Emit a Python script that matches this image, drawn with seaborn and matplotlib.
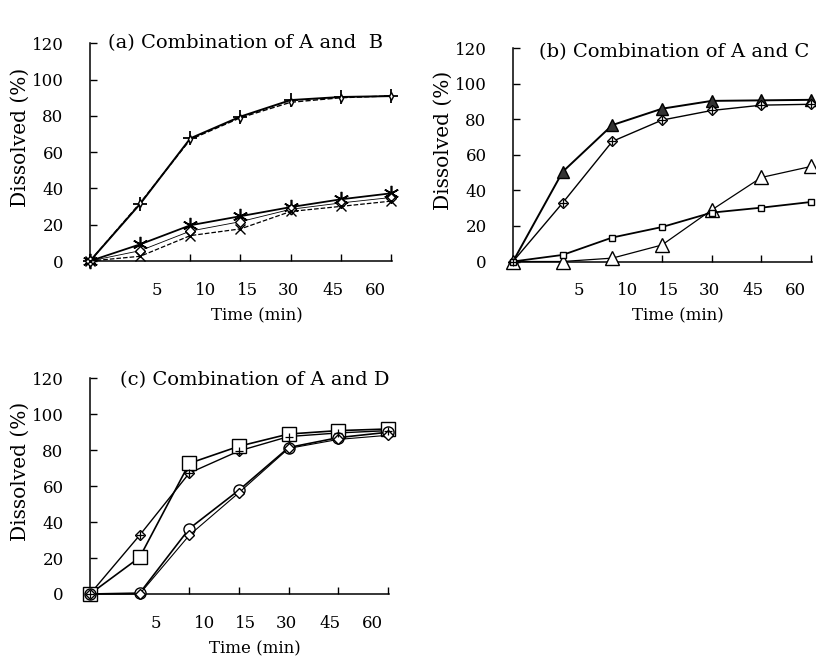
import numpy as np
import pandas as pd
import matplotlib
matplotlib.use("Agg")
import matplotlib.pyplot as plt
import seaborn as sns

# Sampling times (min) and the dissolved percentages for each formulation
time_min = [0, 5, 10, 15, 30, 45, 60]
time_labels = ["5", "10", "15", "30", "45", "60"]

# (a) A combined with B
a_A = [0, 31.5, 67.6, 79.6, 88.7, 90.4, 90.9]
a_AB = [0, 32.0, 67.0, 79.0, 87.5, 90.0, 91.0]
a_B = [0, 9.2, 19.7, 24.7, 29.7, 34.0, 37.3]
a_B2 = [0, 5.7, 16.5, 21.7, 28.5, 32.0, 35.0]
a_B3 = [0, 2.6, 14.0, 17.7, 27.3, 30.1, 33.0]

# (b) A combined with C
b_AC = [0, 50.5, 76.8, 86.0, 90.4, 90.7, 91.0]
b_A = [0, 33.0, 67.6, 79.6, 85.0, 88.0, 88.5]
b_C = [0, 0, 1.9, 9.3, 29.0, 47.3, 53.5]
b_C2 = [0, 3.7, 13.5, 19.4, 27.5, 30.3, 33.5]

# (c) A combined with D
c_A = [0, 32.7, 67.3, 79.6, 87.6, 89.6, 90.9]
c_AD = [0, 20.4, 72.7, 82.2, 89.0, 90.9, 91.8]
c_D = [0, 0.5, 36.4, 57.8, 81.5, 87.0, 90.0]
c_D2 = [0, 0, 32.7, 56.4, 81.0, 86.0, 88.3]

sns.set_style("ticks")
plt.rcParams["font.family"] = ["DejaVu Serif", "DejaVu Sans"]
plt.rcParams["font.size"] = 12
for key in ["text.color", "axes.labelcolor", "xtick.color", "ytick.color",
            "axes.edgecolor"]:
    plt.rcParams[key] = "black"

fig = plt.figure(figsize=(8.16, 6.6), dpi=100)

W, H = 816, 660


def px_axes(left, right, bottom, top):
    return fig.add_axes([left / W, 1 - bottom / H, (right - left) / W, (bottom - top) / H])


ax_a = px_axes(90, 392, 261.0, 43.3)
ax_b = px_axes(513, 812, 261.5, 48.3)
ax_c = px_axes(90, 389, 594.0, 378.3)

x = np.arange(len(time_min))


def draw(ax, y, marker, ms=7, ls="-", lw=1.2, mfc="white", mew=1.0, extra=None):
    df = pd.DataFrame({"pos": x, "val": y})
    sns.lineplot(data=df, x="pos", y="val", ax=ax, color="black", linestyle=ls,
                 linewidth=lw, marker=marker, markersize=ms, markerfacecolor=mfc,
                 markeredgecolor="black", markeredgewidth=mew, clip_on=False,
                 zorder=3)
    if extra is not None:
        ax.plot(x, y, linestyle="none", marker=extra, markersize=ms * 1.1,
                color="black", markeredgewidth=0.9, clip_on=False, zorder=4)


asterisk = (6, 2, 0)

# panel (a)
draw(ax_a, a_A, "+", ms=10, lw=1.4, mew=1.3)
draw(ax_a, a_AB, "d", ms=4, ls="--", lw=1.0)
draw(ax_a, a_B, asterisk, ms=11, lw=1.3, mew=1.2)
draw(ax_a, a_B2, "D", ms=5, lw=0.6)
draw(ax_a, a_B3, "x", ms=7, ls="--", lw=0.9)

# panel (b)
draw(ax_b, b_AC, "^", ms=8, lw=1.4, mfc="#333333")
draw(ax_b, b_A, "D", ms=5, lw=1.0, extra="+")
draw(ax_b, b_C, "^", ms=10, lw=0.9)
draw(ax_b, b_C2, "s", ms=4, lw=1.3)

# panel (c)
draw(ax_c, c_A, "D", ms=5, lw=1.0, extra="+")
draw(ax_c, c_AD, "s", ms=10, lw=1.2)
draw(ax_c, c_D, "o", ms=8, lw=1.2)
draw(ax_c, c_D2, "D", ms=5, lw=0.8)

titles = ["(a) Combination of A and  B",
          "(b) Combination of A and C",
          "(c) Combination of A and D"]
title_x = [0.06, 0.088, 0.10]
title_y = [1.0, 0.983, 0.99]
label_pos = [1.33, 2.3, 3.13, 3.96, 4.84, 5.68]

for ax, title, tx, ty in zip([ax_a, ax_b, ax_c], titles, title_x, title_y):
    ax.set_xlim(0, 6.02)
    ax.set_ylim(0, 120)
    ax.set_yticks(np.arange(0, 121, 20))
    ax.set_xticks(x[2:])
    ax.set_xticklabels([])
    ax.set_xticks(label_pos, minor=True)
    ax.set_xticklabels(time_labels, minor=True)
    ax.tick_params(axis="x", which="major", direction="in", length=5, width=1.0)
    ax.tick_params(axis="x", which="minor", length=0, pad=15, labelsize=12)
    ax.tick_params(axis="y", direction="in", length=5, width=1.0, pad=19,
                   labelsize=12)
    for side in ["top", "right"]:
        ax.spines[side].set_visible(False)
    for side in ["left", "bottom"]:
        ax.spines[side].set_linewidth(1.1)
    ax.set_xlabel("Time (min)", fontsize=12)
    ax.xaxis.set_label_coords(0.552, -0.215)
    ax.set_ylabel("Dissolved (%)", fontsize=14.5)
    ax.yaxis.set_label_coords(-0.20, 0.57)
    ax.text(tx, ty, title, transform=ax.transAxes, fontsize=14,
            ha="left", va="center")

fig.savefig("out.png", dpi=100)
